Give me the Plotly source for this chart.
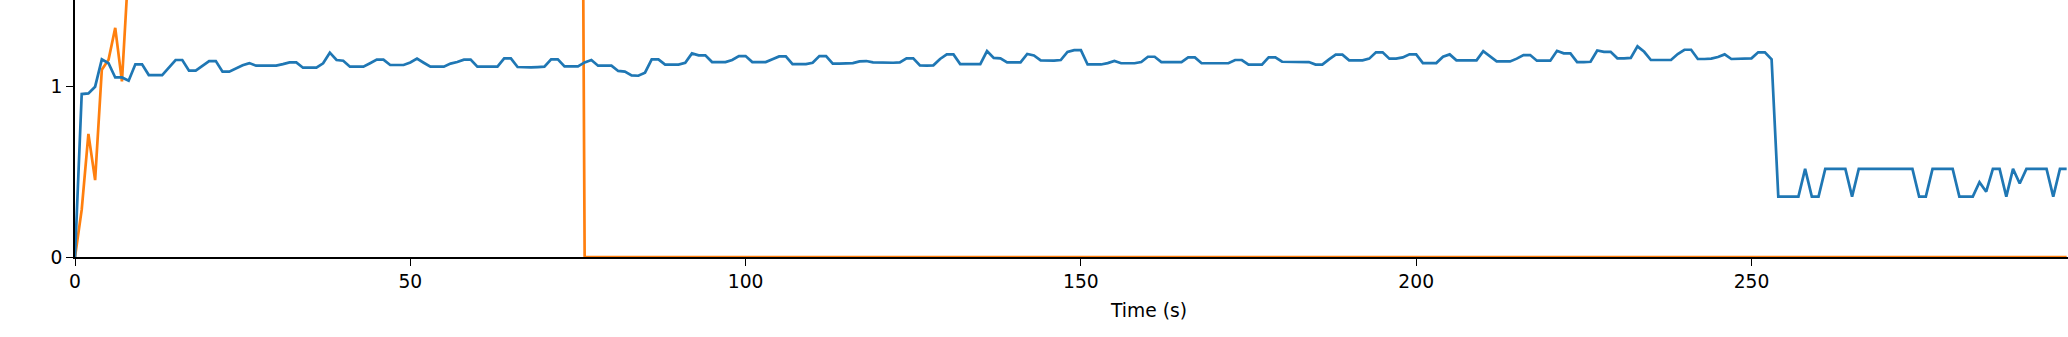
import plotly.graph_objects as go

# Time axis: samples every 1 s
time_s = list(range(0, 298))

blue_values = [
    0.0, 0.953, 0.957, 0.996, 1.156, 1.133, 1.05, 1.05, 1.031, 1.127,
    1.127, 1.064, 1.064, 1.064, 1.107, 1.152, 1.152, 1.09, 1.09, 1.117,
    1.146, 1.146, 1.084, 1.084, 1.103, 1.121, 1.134, 1.119, 1.119, 1.119,
    1.119, 1.128, 1.138, 1.138, 1.107, 1.107, 1.107, 1.133, 1.195, 1.152,
    1.148, 1.113, 1.113, 1.113, 1.133, 1.154, 1.154, 1.123, 1.123, 1.123,
    1.138, 1.160, 1.136, 1.113, 1.113, 1.113, 1.131, 1.14, 1.154, 1.154,
    1.113, 1.113, 1.113, 1.113, 1.162, 1.162, 1.111, 1.109, 1.109, 1.111,
    1.113, 1.156, 1.156, 1.115, 1.115, 1.115, 1.138, 1.152, 1.119, 1.119,
    1.119, 1.088, 1.084, 1.062, 1.06, 1.078, 1.156, 1.156, 1.125, 1.125,
    1.125, 1.136, 1.191, 1.179, 1.179, 1.14, 1.14, 1.14, 1.152, 1.175,
    1.175, 1.14, 1.14, 1.14, 1.156, 1.173, 1.173, 1.128, 1.128, 1.128,
    1.136, 1.175, 1.175, 1.131, 1.131, 1.131, 1.134, 1.144, 1.146, 1.138,
    1.136, 1.136, 1.136, 1.138, 1.162, 1.162, 1.121, 1.119, 1.121, 1.158,
    1.185, 1.185, 1.128, 1.128, 1.128, 1.128, 1.204, 1.164, 1.162, 1.138,
    1.138, 1.138, 1.187, 1.179, 1.15, 1.148, 1.148, 1.152, 1.199, 1.21,
    1.21, 1.126, 1.126, 1.126, 1.134, 1.146, 1.133, 1.133, 1.133, 1.14,
    1.171, 1.171, 1.14, 1.14, 1.14, 1.14, 1.167, 1.167, 1.133, 1.133,
    1.133, 1.133, 1.133, 1.152, 1.152, 1.125, 1.125, 1.125, 1.168, 1.168,
    1.142, 1.142, 1.142, 1.142, 1.14, 1.125, 1.125, 1.156, 1.183, 1.183,
    1.15, 1.15, 1.15, 1.16, 1.197, 1.197, 1.16, 1.16, 1.167, 1.185,
    1.185, 1.134, 1.134, 1.134, 1.171, 1.185, 1.15, 1.15, 1.15, 1.15,
    1.204, 1.175, 1.144, 1.144, 1.144, 1.16, 1.181, 1.181, 1.148, 1.148,
    1.148, 1.206, 1.191, 1.191, 1.14, 1.14, 1.142, 1.208, 1.2, 1.2,
    1.162, 1.162, 1.164, 1.232, 1.2, 1.152, 1.152, 1.152, 1.152, 1.187,
    1.212, 1.212, 1.158, 1.158, 1.16, 1.17, 1.185, 1.158, 1.158, 1.158,
    1.162, 1.197, 1.197, 1.156, 0.353, 0.353, 0.353, 0.353, 0.515, 0.353,
    0.353, 0.515, 0.515, 0.515, 0.515, 0.353, 0.515, 0.515, 0.515, 0.515,
    0.515, 0.515, 0.515, 0.515, 0.515, 0.353, 0.353, 0.515, 0.515, 0.515,
    0.515, 0.353, 0.353, 0.353, 0.437, 0.382, 0.515, 0.515, 0.353, 0.515,
    0.43, 0.515, 0.515, 0.515, 0.515, 0.353, 0.515, 0.515,
]

# Orange series: visible start, off-chart plateau (estimated), then zero
orange_start = [0.0, 0.277, 0.72, 0.45, 1.095, 1.154, 1.34, 1.027, 1.71]
orange_offchart = [
    2.3, 2.8, 3.1, 3.3, 3.6, 3.8, 4.0, 4.1, 4.3, 4.4,
    4.5, 4.6, 4.8, 4.9, 5.0, 5.1, 5.2, 5.3, 5.3, 5.4,
    5.5, 5.6, 5.7, 5.7, 5.8, 5.9, 6.0, 6.0, 6.1, 6.2,
    6.2, 6.3, 6.4, 6.4, 6.5, 6.5, 6.6, 6.6, 6.7, 6.7,
    6.8, 6.8, 6.9, 6.9, 7.0, 7.0, 7.0, 7.1, 7.1, 7.2,
    7.2, 7.2, 7.3, 7.3, 7.3, 7.4, 7.4, 7.4, 7.4, 7.5,
    7.5, 7.5, 7.5, 7.5, 7.5, 7.5, 7.5,
]
orange_tail = [0.0] * (len(time_s) - len(orange_start) - len(orange_offchart))
orange_values = orange_start + orange_offchart + orange_tail

x_ticks = [0, 50, 100, 150, 200, 250]
y_ticks = [0, 1]
x_title = "Time (s)"

FONT = "DejaVu Sans"
W, H = 2068, 337
ML, MB = 75, 80

fig = go.Figure()
fig.add_trace(go.Scatter(x=time_s, y=orange_values, mode="lines",
                         line=dict(color="#ff7f0e", width=2.7), showlegend=False))
fig.add_trace(go.Scatter(x=time_s, y=blue_values, mode="lines",
                         line=dict(color="#1f77b4", width=2.7), showlegend=False))

fig.update_layout(
    width=W, height=H,
    margin=dict(l=ML, r=0, t=0, b=MB, pad=0),
    paper_bgcolor="white", plot_bgcolor="white",
    font=dict(family=FONT, size=18.7, color="black"),
    showlegend=False,
)
fig.update_xaxes(
    range=[0, 297.2], tickvals=x_ticks, ticktext=[str(v) for v in x_ticks],
    showgrid=False, zeroline=False, showline=True, linecolor="black", linewidth=1.6,
    ticks="outside", ticklen=7, tickwidth=1.4, tickcolor="black",
    tickfont=dict(family=FONT, size=18.7, color="black"),
)
fig.update_yaxes(
    range=[0, 1.503], tickvals=y_ticks, ticktext=[str(v) for v in y_ticks],
    showgrid=False, zeroline=False, showline=True, linecolor="black", linewidth=1.6,
    ticks="outside", ticklen=7, tickwidth=1.4, tickcolor="black",
    tickfont=dict(family=FONT, size=18.7, color="black"),
)

plot_w = W - ML
plot_h = H - MB
fig.add_annotation(
    x=(1148 - ML) / plot_w, y=-(310 - plot_h) / plot_h,
    xref="paper", yref="paper", text=x_title, showarrow=False,
    xanchor="center", yanchor="middle",
    font=dict(family=FONT, size=18.7, color="black"),
)

fig.write_html("out.html")
